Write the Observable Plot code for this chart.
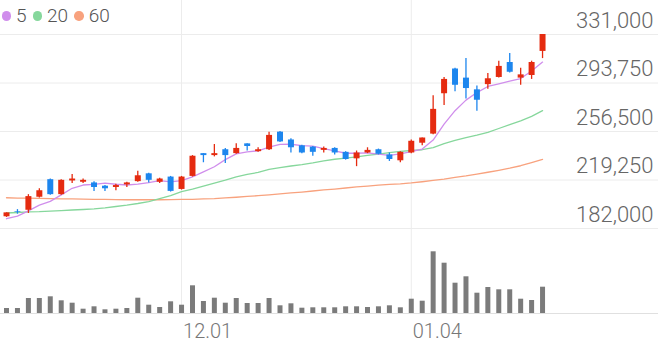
<!DOCTYPE html>
<html><head><meta charset="utf-8">
<script src="https://cdn.jsdelivr.net/npm/d3@7"></script>
<script src="https://cdn.jsdelivr.net/npm/@observablehq/plot@0.6"></script>
<style>
html,body{margin:0;padding:0;background:#fff;}
#chart{position:relative;width:658px;height:342px;overflow:hidden;font-family:Roboto,sans-serif;}
#chart svg{display:block;}
#legend{position:absolute;left:1.5px;top:6px;display:flex;align-items:center;font:300 19px Roboto,sans-serif;color:#555;line-height:20px;}
.dot{width:9.5px;height:9.5px;border-radius:50%;display:inline-block;margin-right:5px;}
.lab{margin-right:6px;}
</style></head><body><div id="chart"><div id="legend"></div></div>
<script>
const dates = ["11.09","11.10","11.11","11.12","11.13","11.16","11.17","11.18","11.19","11.20","11.23","11.24","11.25","11.26","11.27","11.30",
"12.01","12.02","12.03","12.04","12.07","12.08","12.09","12.10","12.11","12.14","12.15","12.16","12.17","12.18","12.21","12.22","12.23","12.24","12.28","12.29","12.30",
"01.04","01.05","01.06","01.07","01.08","01.11","01.12","01.13","01.14","01.15","01.18","01.19","01.20"];
const open  = [191000,195000,196000,206000,219500,208000,218500,217500,217000,214500,213500,215500,218000,224000,217500,221500,212000,222000,239500,238000,242500,239500,247000,241000,242500,256000,250000,245500,244500,242000,243500,240500,235500,240000,242500,238500,234000,240000,247500,254500,285500,304500,297500,288500,292500,298000,309500,297500,299500,318000];
const high  = [194000,196500,208000,212500,220000,219500,223500,220000,218000,215000,216000,217500,226000,224500,220500,222000,222000,238000,239500,246500,243500,247000,247000,244000,256000,256500,251000,246000,245000,244500,244000,241000,241500,244000,243000,240000,241000,250000,251500,284000,298000,305000,312500,291500,301000,310500,316500,305000,310500,331000];
const low   = [190500,193000,193500,205500,207500,207500,216500,216500,210500,210500,211000,213500,217500,217000,216500,210000,211500,221500,232500,237000,232000,239000,241500,240500,242000,248000,240000,239500,237500,240000,238500,234500,229500,239500,238500,233500,232500,239500,245500,254000,276500,287000,281500,272000,289000,297500,301500,292000,296500,312500];
const close = [194000,194500,206500,211000,208000,219000,220000,219000,213500,212500,215000,217000,222500,219000,220000,210500,221500,237500,238000,239500,238000,243500,245000,242500,253500,248500,244000,240000,240500,243500,240000,235000,240000,242000,239000,235000,240500,249000,251500,273500,296500,292000,289500,280500,297000,306500,302000,300000,309500,331000];
const ma5  = [189500,191500,195500,200000,202800,207800,212900,215400,215900,216800,216000,215400,216100,217200,218700,217800,218700,221700,225500,229400,234900,239300,240800,241700,244500,246600,246700,245700,245300,243300,241600,239800,239800,240100,239200,238200,239300,241100,243000,249900,262200,272500,280600,286400,291100,293100,295100,297200,303000,309800];
const ma20 = [193900,194300,194700,194900,195400,195800,196200,196600,197100,197900,198900,199900,201200,202700,205000,207300,210400,212200,214600,216900,219100,221600,223500,225100,227400,228800,230000,231100,232400,234000,235200,236100,237000,238200,239100,240300,241300,241900,242500,244200,247200,249600,251800,253700,255900,258800,261700,264700,268100,272500];
const ma60 = [205600,205400,205300,205100,205000,204800,204700,204500,204400,204300,204200,204100,204100,204100,204100,204200,204300,204400,204700,205000,205500,206000,206600,207200,207900,208600,209300,210000,210800,211600,212300,213100,213900,214600,215300,215900,216300,217000,217900,218900,219900,221200,222400,223800,225200,226700,228300,230200,232500,235000];
const volume = [50,50,150,150,167,127,103,43,67,37,43,50,153,83,60,117,83,277,120,153,103,150,100,100,150,77,97,53,57,57,57,67,67,60,67,77,57,143,123,617,503,303,367,203,260,237,237,143,130,263];
const yTicks = [182000,219250,256500,293750,331000];
const tickDates = ["12.01","01.04"];
const maNames = ["5","20","60"];
const maColors = ["#d08eec","#86d79c","#f8a27e"];

const RED = "#e52b10", BLUE = "#1d86ee";
const W = 658;
const idx = dates.map((d, i) => i);
const xOpt = {domain: [-0.55, 59.6], range: [0, W], axis: null};
const col = i => close[i] >= open[i] ? RED : BLUE;

const pricePlot = Plot.plot({
  width: W, height: 240, marginTop: 0, marginBottom: 0, marginLeft: 0, marginRight: 0,
  style: {fontFamily: "Roboto, sans-serif", background: "transparent"},
  x: xOpt,
  y: {domain: [182000, 331000], range: [228, 34], axis: null},
  color: {type: "identity"},
  marks: [
    Plot.ruleY(yTicks, {stroke: "#ececec", strokeWidth: 1}),
    Plot.ruleX(tickDates, {x: d => dates.indexOf(d), stroke: "#ececec"}),
    Plot.line(idx, {x: i => i, y: i => ma60[i], stroke: maColors[2], strokeWidth: 1.3}),
    Plot.line(idx, {x: i => i, y: i => ma20[i], stroke: maColors[1], strokeWidth: 1.3}),
    Plot.line(idx, {x: i => i, y: i => ma5[i], stroke: maColors[0], strokeWidth: 1.3}),
    Plot.ruleX(idx, {x: i => i, y1: i => low[i], y2: i => high[i], stroke: col, strokeWidth: 1.3}),
    Plot.ruleX(idx, {x: i => i, y1: i => open[i], y2: i => close[i], stroke: col, strokeWidth: 6}),
    Plot.text(yTicks, {y: d => d, text: d => d3.format(",")(d), frameAnchor: "right", textAnchor: "end", lineAnchor: "bottom", dx: -5, dy: -7, fill: "#666", fontSize: 22, fontWeight: 300})
  ]
});

const volPlot = Plot.plot({
  width: W, height: 102, marginTop: 0, marginBottom: 29, marginLeft: 0, marginRight: 0,
  style: {fontFamily: "Roboto, sans-serif", background: "transparent"},
  x: xOpt,
  y: {domain: [0, 730], axis: null},
  marks: [
    Plot.ruleX(tickDates, {x: d => dates.indexOf(d), stroke: "#ececec"}),
    Plot.ruleY([0], {stroke: "#e0e0e0"}),
    Plot.ruleX(idx, {x: i => i, y1: 0, y2: i => volume[i], stroke: "#7b7b7b", strokeWidth: 5}),
    Plot.text(tickDates, {x: d => dates.indexOf(d), text: d => d, frameAnchor: "bottom", textAnchor: "start", lineAnchor: "bottom", dx: 1.5, dy: 24, fill: "#777", fontSize: 20, fontWeight: 300})
  ]
});

const chart = document.getElementById("chart");
chart.insertBefore(pricePlot, chart.firstChild);
chart.insertBefore(volPlot, document.getElementById("legend"));

const legend = document.getElementById("legend");
maNames.forEach((n, k) => {
  const d = document.createElement("span"); d.className = "dot"; d.style.background = maColors[k];
  const t = document.createElement("span"); t.className = "lab"; t.textContent = n;
  legend.appendChild(d); legend.appendChild(t);
});
</script></body></html>
